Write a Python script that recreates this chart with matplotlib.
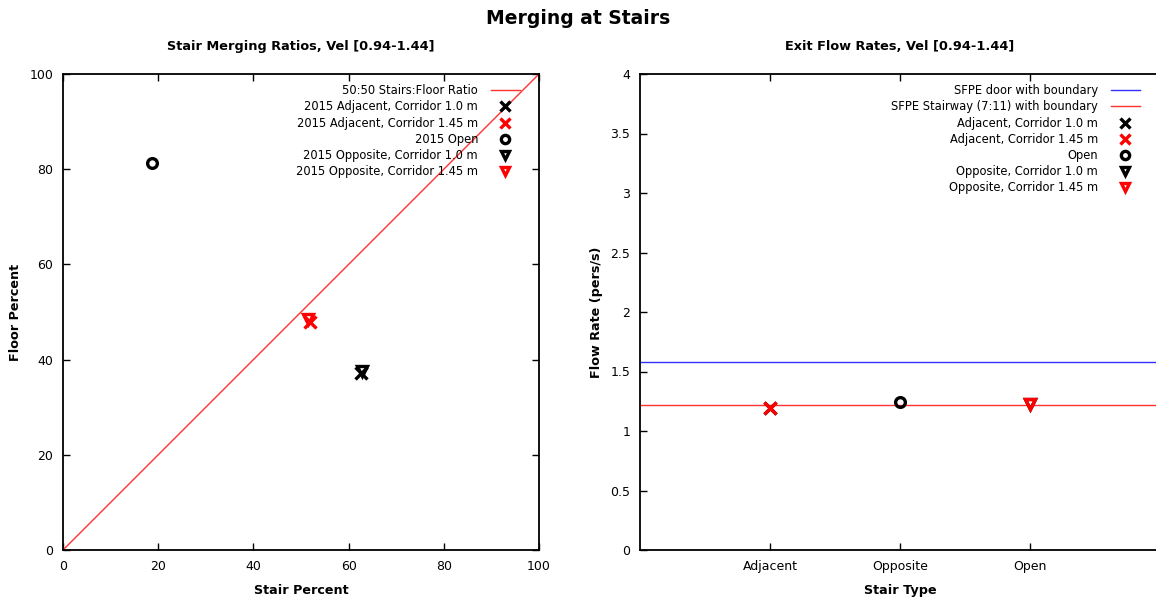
import numpy as np
import matplotlib
matplotlib.use("Agg")
import matplotlib.pyplot as plt
from matplotlib.ticker import FormatStrFormatter

# left panel: stair vs floor percent
ratio_line_x = [0, 100]
ratio_line_y = [0, 100]
adj_10_stair = [62.7]
adj_10_floor = [37.2]
adj_145_stair = [51.9]
adj_145_floor = [48.0]
open_stair = [18.8]
open_floor = [81.2]
opp_10_stair = [62.9]
opp_10_floor = [37.6]
opp_145_stair = [51.5]
opp_145_floor = [48.6]

# right panel: exit flow rates
stair_types = ["Adjacent", "Opposite", "Open"]
sfpe_door = 1.58
sfpe_stair = 1.22
adj_10_pos = [1]
adj_10_flow = [1.19]
adj_145_pos = [1]
adj_145_flow = [1.19]
open_pos = [2]
open_flow = [1.24]
opp_10_pos = [3]
opp_10_flow = [1.23]
opp_145_pos = [3]
opp_145_flow = [1.23]

plt.rcParams['font.family'] = ['DejaVu Sans']
plt.rcParams['font.size'] = 9

fig = plt.figure(figsize=(11.56, 6.0), dpi=100)
ax1 = fig.add_axes([63/1156, 50/600, 476/1156, 476/600])
ax2 = fig.add_axes([640/1156, 50/600, 520/1156, 476/600])

red = '#ff0000'
mk = dict(linestyle='none', mew=2.4)

ax1.plot(ratio_line_x, ratio_line_y, color='#ff3030', lw=1, label="50:50 Stairs:Floor Ratio")
ax1.plot(adj_10_stair, adj_10_floor, marker='x', ms=9, color='black', label="2015 Adjacent, Corridor 1.0 m", **mk)
ax1.plot(adj_145_stair, adj_145_floor, marker='x', ms=9, color=red, label="2015 Adjacent, Corridor 1.45 m", **mk)
ax1.plot(open_stair, open_floor, marker='o', ms=7, color='black', mfc='none', label="2015 Open", **mk)
ax1.plot(opp_10_stair, opp_10_floor, marker='v', ms=7, color='black', mfc='none', label="2015 Opposite, Corridor 1.0 m", **mk)
ax1.plot(opp_145_stair, opp_145_floor, marker='v', ms=7, color=red, mfc='none', label="2015 Opposite, Corridor 1.45 m", **mk)
ax1.set_xlim(0, 100)
ax1.set_ylim(0, 100)
ax1.set_xticks(np.arange(0, 101, 20))
ax1.set_yticks(np.arange(0, 101, 20))
ax1.set_xlabel("Stair Percent", fontweight='bold', fontsize=9.2, labelpad=8)
ax1.set_ylabel("Floor Percent", fontweight='bold', fontsize=9.2, labelpad=5)
ax1.set_title("Stair Merging Ratios, Vel [0.94-1.44]", fontweight='bold', fontsize=9.3, pad=17)

ax2.axhline(sfpe_door, color='#3030ff', lw=1, label="SFPE door with boundary")
ax2.axhline(sfpe_stair, color='#ff3030', lw=1, label="SFPE Stairway (7:11) with boundary")
ax2.plot(adj_10_pos, adj_10_flow, marker='x', ms=9, color='black', label="Adjacent, Corridor 1.0 m", **mk)
ax2.plot(adj_145_pos, adj_145_flow, marker='x', ms=9, color=red, label="Adjacent, Corridor 1.45 m", **mk)
ax2.plot(open_pos, open_flow, marker='o', ms=7, color='black', mfc='none', label="Open", **mk)
ax2.plot(opp_10_pos, opp_10_flow, marker='v', ms=7, color='black', mfc='none', label="Opposite, Corridor 1.0 m", **mk)
ax2.plot(opp_145_pos, opp_145_flow, marker='v', ms=7, color=red, mfc='none', label="Opposite, Corridor 1.45 m", **mk)
ax2.set_xlim(0, 4)
ax2.set_ylim(0, 4)
ax2.set_xticks([1, 2, 3])
ax2.set_xticklabels(stair_types)
ax2.set_yticks(np.arange(0, 4.01, 0.5))
ax2.yaxis.set_major_formatter(FormatStrFormatter('%g'))
ax2.set_xlabel("Stair Type", fontweight='bold', fontsize=9.2, labelpad=8)
ax2.set_ylabel("Flow Rate (pers/s)", fontweight='bold', fontsize=9.2, labelpad=5)
ax2.set_title("Exit Flow Rates, Vel [0.94-1.44]", fontweight='bold', fontsize=9.3, pad=17)

for ax, show_right in ((ax1, True), (ax2, False)):
    ax.tick_params(direction='in', top=True, right=show_right, length=5, width=1, pad=7)
    for s in ax.spines.values():
        s.set_linewidth(1.3)
    ax.legend(loc='upper right', bbox_to_anchor=(0.981, 1.0), frameon=False, markerfirst=False,
              handlelength=2.5, handletextpad=1.1, labelspacing=0.27,
              borderaxespad=0.4, borderpad=0.5, fontsize=8.3,
              markerscale=0.85)
ax2.spines['right'].set_visible(False)

fig.suptitle("Merging at Stairs", fontweight='bold', fontsize=13.5, y=0.985)
fig.savefig("out.png", dpi=100)
